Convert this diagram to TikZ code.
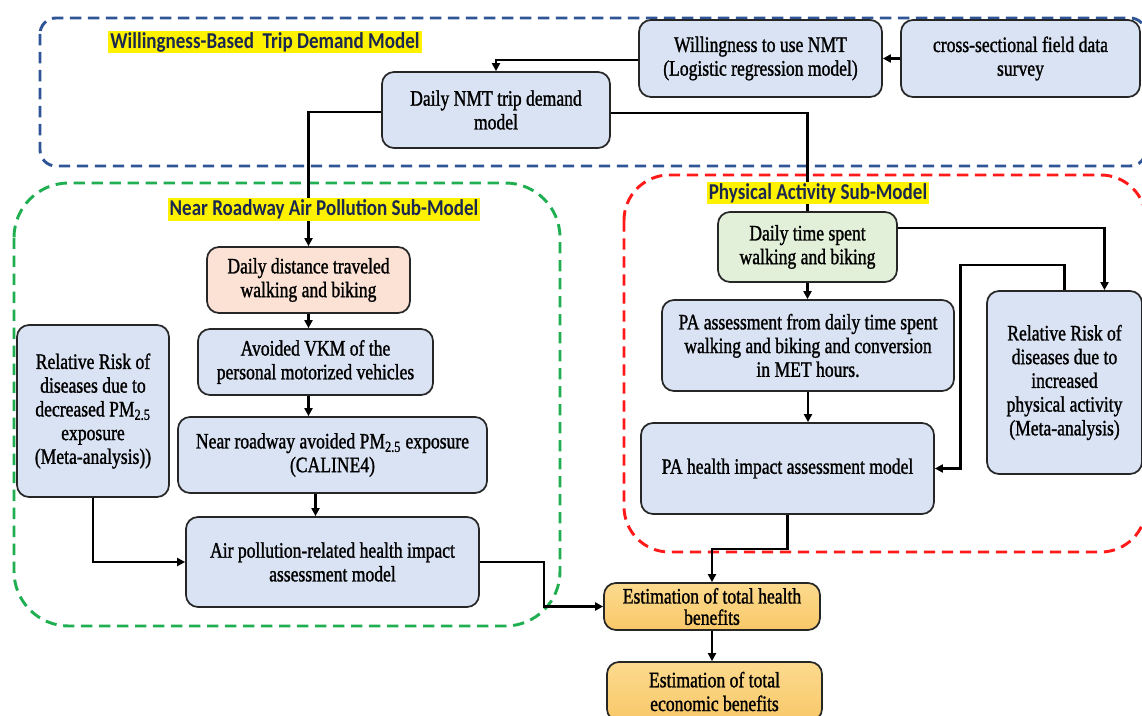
\documentclass[tikz,border=0pt]{standalone}
\usepackage{fontspec}
\setmainfont{Liberation Serif}[FakeStretch=0.8,FakeBold=1.2]
\newfontfamily\titlefont{Carlito}[FakeStretch=0.84]
\usetikzlibrary{arrows.meta,calc}
\definecolor{boxblue}{HTML}{DAE3F3}
\definecolor{boxline}{HTML}{262626}
\definecolor{peach}{HTML}{FBE2D5}
\definecolor{lgreen}{HTML}{E2EFD9}
\definecolor{otop}{HTML}{FCDA8E}
\definecolor{obot}{HTML}{F8C869}
\definecolor{regblue}{HTML}{2F5597}
\definecolor{reggreen}{HTML}{1FAF50}
\definecolor{regred}{HTML}{FF1A1A}
\definecolor{navy}{HTML}{1A2850}
\begin{document}
\begin{tikzpicture}[x=0.75pt,y=-0.75pt,
  box/.style={draw=boxline, line width=1.3pt, rounded corners=9pt, fill=boxblue,
    align=center, inner sep=2pt, font=\fontsize{16.5}{17.8}\selectfont},
  obox/.style={box, top color=otop, bottom color=obot},
  wh/.style 2 args={minimum width=#1*0.75pt, minimum height=#2*0.75pt},
  reg/.style={line width=2.2pt, dash pattern=on 8.5pt off 5pt},
  ttl/.style={fill=yellow, text=navy, inner xsep=1.5pt, inner ysep=1pt,
    font=\titlefont\bfseries\fontsize{17}{20}\selectfont},
  conn/.style={line width=1.8pt, draw=black},
  arr/.style={conn, -{Triangle[length=6pt,width=6pt]}}]
\useasboundingbox (0,0) rectangle (1142,716);
\clip (0,0) rectangle (1142,716);
\fill[white] (0,0) rectangle (1142,716);

% regions
\draw[reg, draw=regblue, rounded corners=12pt] (40,18) rectangle (1146,166);
\draw[reg, draw=reggreen, rounded corners=41pt] (14,183) rectangle (560,626);
\draw[reg, draw=regred, rounded corners=34pt] (624,175) rectangle (1146,552);

% boxes
\node[box, wh={243}{77}] (will) at (760.5,58.5) {Willingness to use NMT\\(Logistic regression model)};
\node[box, wh={239}{77}] (cross) at (1020.5,58.5) {cross-sectional field data\\survey};
\node[box, wh={228}{76}] (nmt) at (496,110) {Daily NMT trip demand\\model};
\node[box, fill=peach, wh={203}{66}] (dist) at (308.5,280) {Daily distance traveled\\walking and biking};
\node[box, wh={235}{66}] (vkm) at (315.5,362) {Avoided VKM of the\\personal motorized vehicles};
\node[box, wh={309}{76}] (near) at (332.5,455) {Near roadway avoided PM\textsubscript{2.5} exposure\\(CALINE4)};
\node[box, wh={293}{90}] (air) at (332.5,562) {Air pollution-related health impact\\assessment model};
\node[box, wh={152}{172}] (rrpm) at (93,411) {Relative Risk of\\diseases due to\\decreased PM\textsubscript{2.5}\\exposure\\(Meta-analysis))};
\node[box, fill=lgreen, wh={179}{70}] (time) at (807.5,247) {Daily time spent\\walking and biking};
\node[box, wh={292}{91}] (paa) at (808,345.5) {PA assessment from daily time spent\\walking and biking and conversion\\in MET hours.};
\node[box, wh={293}{91}] (pah) at (787.5,468.5) {PA health impact assessment model};
\node[box, wh={155}{183}] (rrpa) at (1064.5,382.5) {Relative Risk of\\diseases due to\\increased\\physical activity\\(Meta-analysis)};
\node[obox, wh={216}{47}, font=\fontsize{16.5}{16}\selectfont] (eh) at (712,606.5) {Estimation of total health\\benefits};
\node[obox, wh={215}{59}] (ee) at (714.5,691.5) {Estimation of total\\economic benefits};

% connectors
\draw[arr] (cross.west) -- (will.east);
\draw[arr] ($(will.west)+(0,1.5)$) -| (nmt.north);
\draw[arr] ($(nmt.west)+(0,2)$) -| (dist.north);
\draw[conn] ($(nmt.east)+(0,3)$) -| (time.north);
\draw[arr] (dist.south) -- (dist.south |- vkm.north);
\draw[arr] (dist.south |- vkm.south) -- (dist.south |- near.north);
\draw[arr] ($(near.south)+(-17,0)$) -- ($(near.south |- air.north)+(-17,0)$);
\draw[arr] (rrpm.south) |- (air.west);
\draw[arr] (air.east) -- ++(64,0) |- (eh.west);
\draw[arr] (time.south) -- (time.south |- paa.north);
\draw[arr] (paa.south) -- (paa.south |- pah.north);
\draw[arr] ($(time.east)+(0,-19)$) -| ($(rrpa.north)+(40,0)$);
\draw[arr] (rrpa.north) -- ++(0,-25) -- ++(-104,0) |- (pah.east);
\draw[arr] (pah.south) -- ++(0,34) -| (eh.north);
\draw[arr] (eh.south) -- (eh.south |- ee.north);

% titles
\node[ttl] (t1) at (265,42) {Willingness-Based~ Trip Demand Model};
\node[ttl] (t2) at (324,209.5) {Near Roadway Air Pollution Sub-Model};
\node[ttl] (t3) at (818,193) {Physical Activity Sub-Model};
\end{tikzpicture}
\end{document}
